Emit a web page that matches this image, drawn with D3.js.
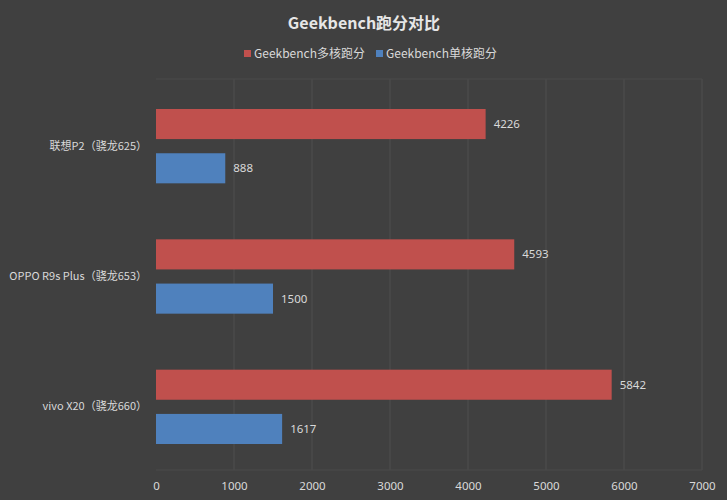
<!DOCTYPE html>
<html>
<head>
<meta charset="utf-8">
<script src="https://cdn.jsdelivr.net/npm/d3@7"></script>
<style>
html,body{margin:0;padding:0;background:#404040;}
svg{display:block;font-family:"Noto Sans CJK SC","Noto Sans",sans-serif;}
</style>
</head>
<body>
<svg id="chart" width="727" height="500"></svg>
<script>
const categories = ["联想P2（骁龙625）", "OPPO R9s Plus（骁龙653）", "vivo X20（骁龙660）"];
const seriesNames = ["Geekbench多核跑分", "Geekbench单核跑分"];
const multiCore = [4226, 4593, 5842];
const singleCore = [888, 1500, 1617];
const xTicks = [0, 1000, 2000, 3000, 4000, 5000, 6000, 7000];
const colors = ["#c0504d", "#4f81bd"];

(function () {
const svg = d3.select("#chart");
const W = 727, H = 500;
svg.append("rect").attr("width", W).attr("height", H).attr("fill", "#404040");

const mLeft = 156, mRight = 702, mTop = 79, mBottom = 470;
const x = d3.scaleLinear().domain([0, 7000]).range([mLeft, mRight]);
const y = d3.scaleBand().domain(categories).range([mTop, mBottom]).paddingInner(0).paddingOuter(0);
const inner = d3.scaleBand().domain(seriesNames).range([30, y.bandwidth() - 26]).paddingInner(0.32);

// gridlines
const grid = svg.append("g");
grid.selectAll("line.v").data(xTicks.slice(1)).join("line")
  .attr("x1", d => x(d)).attr("x2", d => x(d))
  .attr("y1", mTop).attr("y2", mBottom)
  .attr("stroke", "#4f4f4f").attr("stroke-width", 1);
grid.append("line").attr("x1", mLeft).attr("x2", mRight).attr("y1", mTop).attr("y2", mTop)
  .attr("stroke", "#4b4b4b");
grid.append("line").attr("x1", mLeft).attr("x2", mRight).attr("y1", mBottom).attr("y2", mBottom)
  .attr("stroke", "#4b4b4b");

// x axis labels
const xAxis = d3.axisBottom(x).tickValues(xTicks).tickSize(0).tickPadding(12).tickFormat(d3.format("d"));
const gx = svg.append("g").attr("transform", `translate(0,${mBottom})`).call(xAxis);
gx.select(".domain").remove();
gx.selectAll("text").attr("fill", "#d9d9d9").style("font-size", "11.5px")
  .style("font-family", "'Noto Sans','Noto Sans CJK SC',sans-serif");

// y axis labels
const yAxis = d3.axisLeft(y).tickSize(0).tickPadding(9);
const gy = svg.append("g").attr("transform", `translate(${mLeft},2)`).call(yAxis);
gy.select(".domain").remove();
gy.selectAll("text").attr("fill", "#d9d9d9").style("font-size", "11px")
  .style("font-family", "'Noto Sans CJK SC','Noto Sans',sans-serif");

// bars
const rows = categories.map((c, i) => ({cat: c, vals: [multiCore[i], singleCore[i]]}));
const g = svg.append("g");
rows.forEach(r => {
  r.vals.forEach((v, j) => {
    const yy = y(r.cat) + inner(seriesNames[j]);
    g.append("rect")
      .attr("x", x(0)).attr("y", yy)
      .attr("width", x(v) - x(0)).attr("height", inner.bandwidth())
      .attr("fill", colors[j]);
    g.append("text")
      .attr("x", x(v) + 8).attr("y", yy + inner.bandwidth() / 2)
      .attr("dy", "0.35em")
      .attr("fill", "#d9d9d9").style("font-size", "11.5px")
      .style("font-family", "'Noto Sans',sans-serif")
      .text(v);
  });
});

// title
svg.append("text").attr("x", 364).attr("y", 29).attr("text-anchor", "middle")
  .attr("fill", "#e6e6e6").style("font-size", "16px").style("font-weight", "bold")
  .text("Geekbench跑分对比");

// legend
const legendX = [244, 376];
seriesNames.forEach((n, i) => {
  const lg = svg.append("g").attr("transform", `translate(${legendX[i]},54)`);
  lg.append("rect").attr("x", 0).attr("y", -4).attr("width", 7).attr("height", 7).attr("fill", colors[i]);
  lg.append("text").attr("x", 10).attr("y", 0).attr("dy", "0.35em")
    .attr("fill", "#d9d9d9").style("font-size", "12px").text(n);
});
})();
</script>
</body>
</html>
